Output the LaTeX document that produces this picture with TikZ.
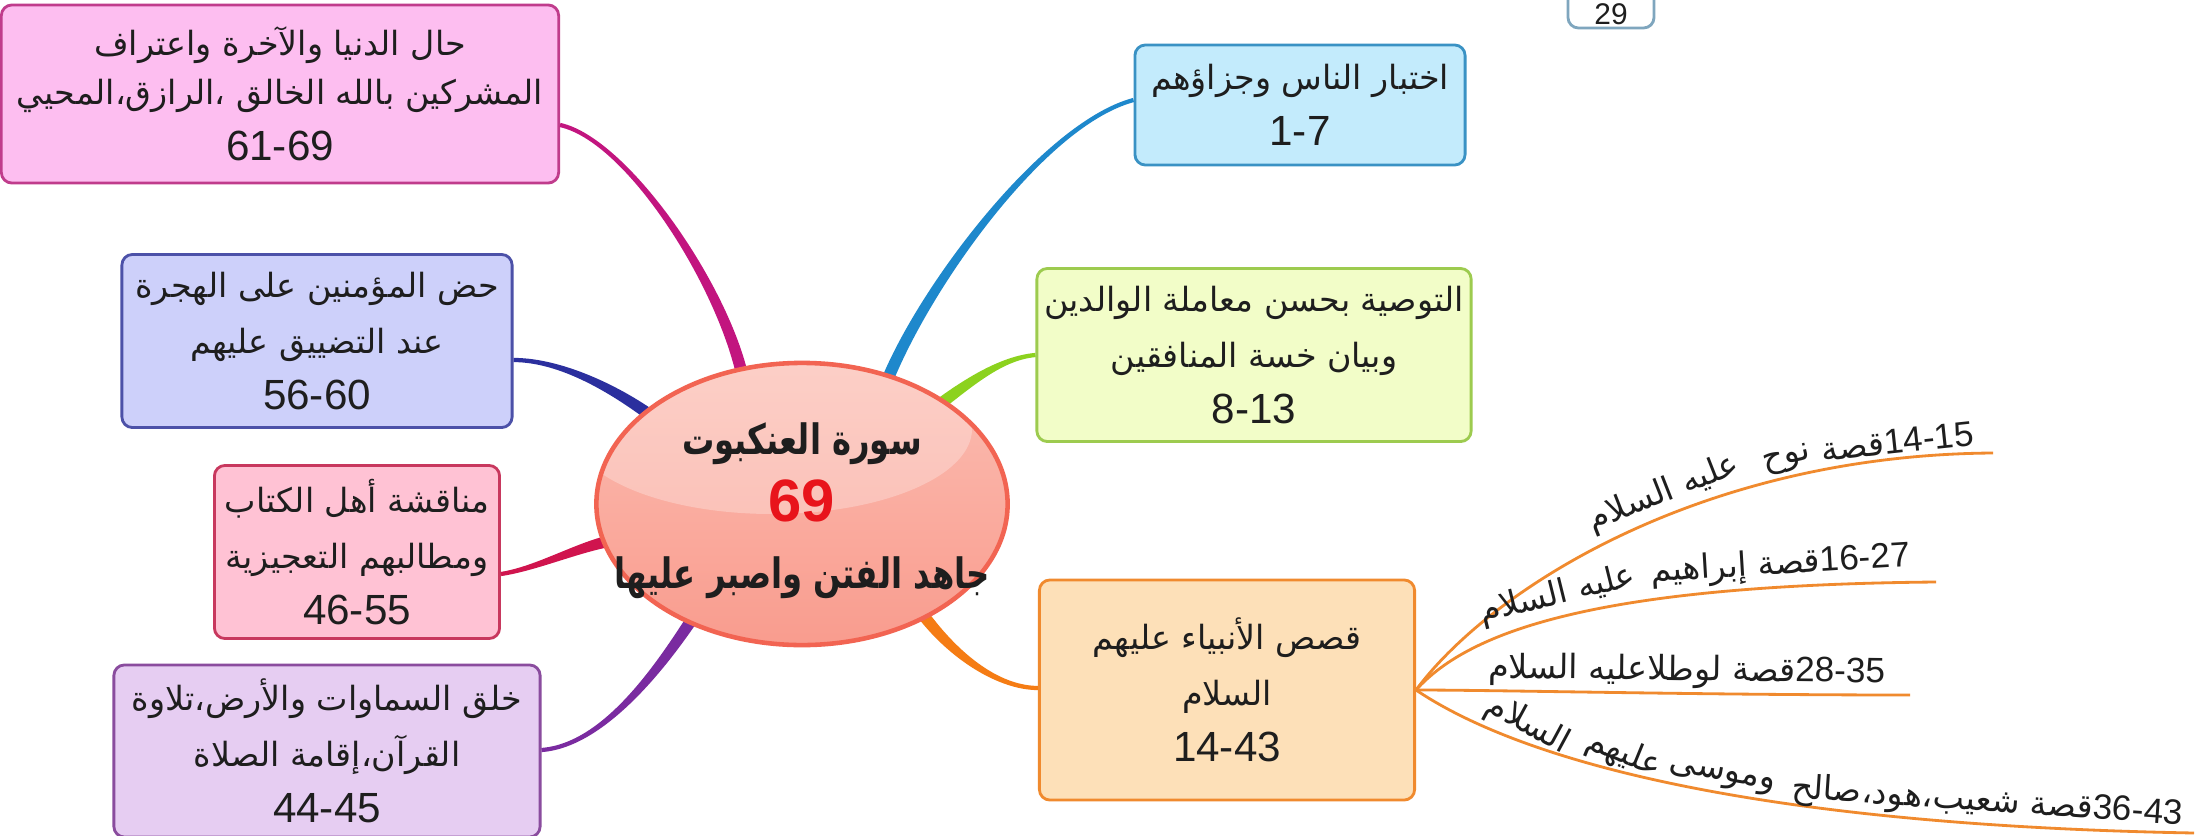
\documentclass[tikz,border=0pt]{standalone}
\usepackage{fontspec}
\setmainfont{Liberation Sans}
\newfontfamily\ar[Script=Arabic,Scale=0.79]{DejaVu Sans}
\newfontfamily\arl[Script=Arabic,Scale=0.95]{DejaVu Sans}
\newfontfamily\arb[Script=Arabic,Scale=0.70,FakeStretch=0.77]{DejaVu Sans}
\TeXXeTstate=1
\usetikzlibrary{shapes.geometric,calc}
\newcommand{\AR}[1]{{\ar\beginR #1\endR}}
\newcommand{\ARL}[1]{{\arl\beginR #1\endR}}
\newcommand{\ARB}[1]{{\arb\bfseries\beginR #1\endR}}
\newcommand{\bx}{\fontsize{12}{16}\selectfont}
\newcommand{\ctr}{\fontsize{17}{19}\selectfont}
\newcommand{\lb}{\fontsize{10}{12}\selectfont}
% tapered connector: P, c1, c2, Q, half width at P, half width at Q, colour
\newcommand{\taper}[7]{\fill[#7] ($(#1)!#5!90:(#2)$) .. controls ($(#2)!#5!-90:(#1)$) and ($(#3)!#6!90:(#4)$) .. ($(#4)!#6!-90:(#3)$) -- ($(#4)!#6!90:(#3)$) .. controls ($(#3)!#6!-90:(#4)$) and ($(#2)!#5!90:(#1)$) .. ($(#1)!#5!-90:(#2)$) -- cycle;}
\definecolor{txt}{HTML}{1E1E1E}
\definecolor{aFill}{HTML}{FDBEF0}\definecolor{aLine}{HTML}{C03C8C}\definecolor{aCon}{HTML}{C2157F}
\definecolor{bFill}{HTML}{CDD0FA}\definecolor{bLine}{HTML}{4C51A8}\definecolor{bCon}{HTML}{2B2F9E}
\definecolor{cFill}{HTML}{FFC2D4}\definecolor{cLine}{HTML}{C8385E}\definecolor{cCon}{HTML}{D0144E}
\definecolor{dFill}{HTML}{E6CDF2}\definecolor{dLine}{HTML}{8A4C9E}\definecolor{dCon}{HTML}{7A2BA0}
\definecolor{eFill}{HTML}{C3EBFC}\definecolor{eLine}{HTML}{3A92C4}\definecolor{eCon}{HTML}{1E88CC}
\definecolor{fFill}{HTML}{F2FDC8}\definecolor{fLine}{HTML}{9DCB4F}\definecolor{fCon}{HTML}{8CD21E}
\definecolor{gFill}{HTML}{FDE0B8}\definecolor{gLine}{HTML}{F08A2E}\definecolor{gCon}{HTML}{F57C14}
\definecolor{ellTop}{HTML}{FBBDB2}\definecolor{ellBot}{HTML}{F99C8E}\definecolor{ellLine}{HTML}{F26452}
\definecolor{redNum}{HTML}{E8141B}\definecolor{pgLine}{HTML}{7FA6BE}
\begin{document}
\begin{tikzpicture}[x=0.01cm,y=-0.01cm,
  box/.style={draw=#1, line width=0.8pt, rounded corners=3pt, inner sep=0pt, align=center, text=txt, font=\bx},
  branch/.style={draw=gLine, line width=0.8pt},
  lab/.style={sloped, above, inner sep=1pt, font=\lb, text=txt}]
\fill[white] (0,0) rectangle (2208,836);
\useasboundingbox (0,0) rectangle (2208,836);

% boxes
\node[box=aLine, fill=aFill, minimum width=5.57cm, minimum height=1.78cm] (A) at (280,94)
  {\AR{حال الدنيا والآخرة واعتراف}\\[-2pt]\AR{المشركين بالله الخالق ،الرازق،المحيي}\\61-69};
\node[box=bLine, fill=bFill, minimum width=3.90cm, minimum height=1.73cm] (B) at (317,341)
  {\AR{حض المؤمنين على الهجرة}\\\AR{عند التضييق عليهم}\\56-60};
\node[box=cLine, fill=cFill, minimum width=2.85cm, minimum height=1.73cm] (C) at (357,552)
  {\AR{مناقشة أهل الكتاب}\\\AR{ومطالبهم التعجيزية}\\46-55};
\node[box=dLine, fill=dFill, minimum width=4.26cm, minimum height=1.72cm] (D) at (327,751)
  {\AR{خلق السماوات والأرض،تلاوة}\\\AR{القرآن،إقامة الصلاة}\\44-45};
\node[box=eLine, fill=eFill, minimum width=3.30cm, minimum height=1.20cm] (E) at (1300,105)
  {\AR{اختبار الناس وجزاؤهم}\\1-7};
\node[box=fLine, fill=fFill, minimum width=4.34cm, minimum height=1.73cm] (F) at (1254,355)
  {\AR{التوصية بحسن معاملة الوالدين}\\\AR{وبيان خسة المنافقين}\\8-13};
\node[box=gLine, fill=gFill, minimum width=3.75cm, minimum height=2.20cm] (G) at (1227,690)
  {\AR{قصص الأنبياء عليهم}\\\AR{السلام}\\14-43};
\node[box=pgLine, fill=white, minimum width=0.86cm, minimum height=0.42cm] (pg) at (1611,7) {};
\node[inner sep=0pt, text=txt, font=\fontsize{8.5}{10}\selectfont] (pgT) at (1611,14) {29};

% connector end points
\coordinate (cc) at (802,504);
\coordinate (pA) at ($(cc)+(-57,-115)$);
\coordinate (pB) at ($(cc)+(-140,-80)$);
\coordinate (pC) at ($(cc)+(-180,35)$);
\coordinate (pD) at ($(cc)+(-100,100)$);
\coordinate (pE) at ($(cc)+(80,-110)$);
\coordinate (pF) at ($(cc)+(125,-90)$);
\coordinate (pG) at ($(cc)+(110,95)$);
\coordinate (qA) at ($(A.east)+(0,31)$);
\coordinate (qB) at ($(B.east)+(0,19)$);
\coordinate (qC) at ($(C.east)+(0,22)$);
\coordinate (qD) at ($(D.east)+(0,-1)$);
\coordinate (qE) at ($(E.west)+(0,-5)$);
\coordinate (qF) at (F.west);
\coordinate (qG) at ($(G.west)+(0,-2)$);

\taper{pA}{730,295}{629,140}{qA}{1.7pt}{0.6pt}{aCon}
\taper{pB}{625,395}{565,360}{qB}{1.7pt}{0.6pt}{bCon}
\taper{pC}{585,543}{540,568}{qC}{1.7pt}{0.6pt}{cCon}
\taper{pD}{672,650}{610,745}{qD}{1.7pt}{0.6pt}{dCon}
\taper{pE}{915,300}{1040,125}{qE}{1.7pt}{0.6pt}{eCon}
\taper{pF}{965,385}{1000,358}{qF}{1.7pt}{0.6pt}{fCon}
\taper{pG}{945,650}{995,688}{qG}{1.7pt}{0.6pt}{gCon}

% central topic
\node[ellipse, draw=ellLine, line width=1.3pt, top color=ellTop, bottom color=ellBot,
  minimum width=4.11cm, minimum height=2.82cm, inner sep=0pt,
  path picture={\fill[white,opacity=0.28] ($(path picture bounding box.center)+(-30,-75)$) ellipse [x radius=200, y radius=85];}]
  (ell) at (cc) {};
\node[align=center, font=\ctr\bfseries, text=txt, inner sep=0pt] (ellT) at ($(ell.center)+(0,7)$)
  {\ARB{سورة العنكبوت}\\{\color{redNum}69}\\\ARB{جاهد الفتن واصبر عليها}};

% sub-branches of the prophets' stories
\coordinate (e1) at (1993,453);
\coordinate (e2) at (1936,582);
\coordinate (e3) at (1910,695);
\coordinate (e4) at (2194,833);
\draw[branch] (G.east) .. controls (1490,590) and (1700,455) .. (e1)
  node[lab,pos=0.58]{\ARL{عليه السلام}}
  node[lab,pos=0.752]{\ARL{نوح}}
  node[lab,pos=0.89]{\ARL{قصة}14-15};
\draw[branch] (G.east) .. controls (1470,630) and (1600,585) .. (e2)
  node[lab,pos=0.485]{\ARL{عليه السلام}}
  node[lab,pos=0.83]{\ARL{قصة إبراهيم}16-27};
\draw[branch] (G.east) .. controls (1500,690) and (1700,695) .. (e3)
  node[lab,pos=0.63]{\ARL{قصة لوطلاعليه السلام}28-35};
\draw[branch] (G.east) .. controls (1520,760) and (1750,825) .. (e4)
  node[lab,pos=0.25,inner sep=0pt,rotate=-8]{\ARL{السلام}}
  node[lab,pos=0.415,inner sep=0pt,rotate=-8]{\ARL{عليهم}}
  node[lab,pos=0.553]{\ARL{وموسى}}
  node[lab,pos=0.83]{\ARL{قصة شعيب،هود،صالح}36-43};
\end{tikzpicture}
\end{document}
